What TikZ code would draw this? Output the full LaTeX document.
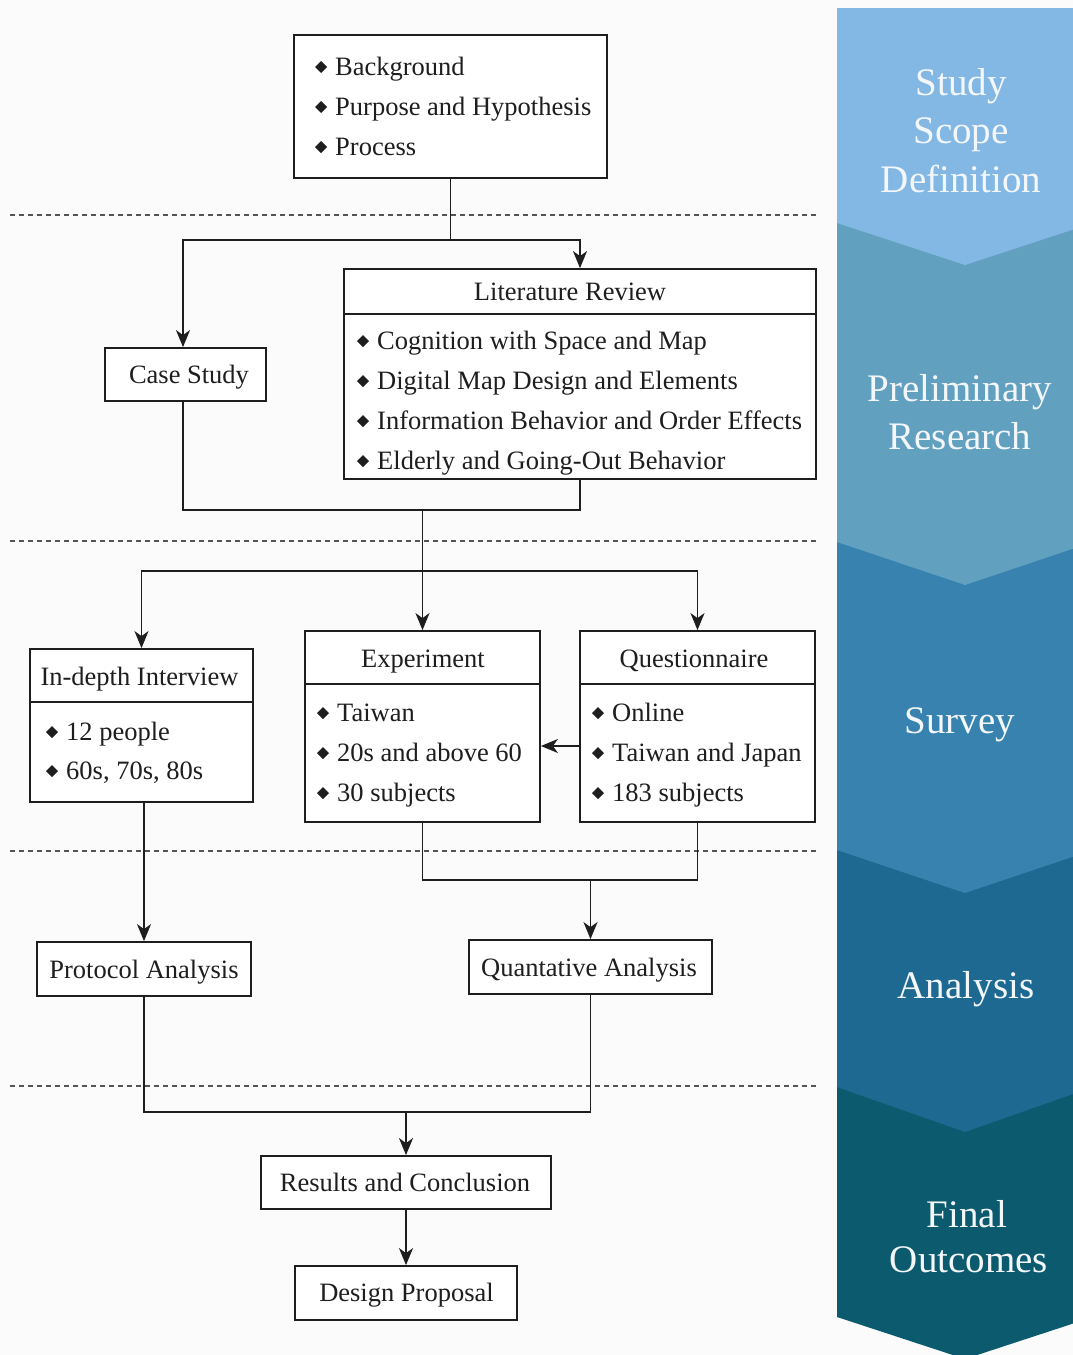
\documentclass[tikz,border=0pt]{standalone}
\usepackage{fontspec}
\setmainfont{Liberation Serif}
\usetikzlibrary{arrows.meta}
\definecolor{ink}{HTML}{1E1E1E}
\definecolor{paper}{HTML}{FBFBFB}
\definecolor{sepgray}{HTML}{555555}
\definecolor{stA}{HTML}{84B8E4}
\definecolor{stB}{HTML}{62A0C0}
\definecolor{stC}{HTML}{3782AF}
\definecolor{stD}{HTML}{1E6991}
\definecolor{stE}{HTML}{0C5A6E}
\definecolor{stagetext}{HTML}{F4F7FA}

% bullet item: diamond + text line (name, x of text, baseline y, text)
\newcommand\blt[4]{%
  \fill[ink] ({#2-14-6},{#3-8}) -- ({#2-14},{#3-8-6}) -- ({#2-14+6},{#3-8}) -- ({#2-14},{#3-8+6}) -- cycle;
  \node[txt] (#1) at (#2,#3) {#4};}
% chevron band: top, side bottom, tip, colour
\newcommand\chev[4]{%
  \fill[#4] (837,#1) -- (1093,#1) -- (1093,#2) -- (965,#3) -- (837,#2) -- cycle;}

\begin{document}
\begin{tikzpicture}[x=1pt,y=-1pt,
  box/.style={draw=ink, line width=1.8pt, fill=white, inner sep=0pt},
  txt/.style={font=\fontsize{26.5}{30}\selectfont, text=ink, inner sep=0pt, anchor=base west},
  head/.style={font=\fontsize{26.5}{30}\selectfont, text=ink, inner sep=0pt, anchor=base},
  conn/.style={draw=ink, line width=1.8pt},
  arr/.style={draw=ink, line width=1.8pt, -{Stealth[length=17pt,width=14pt,inset=5pt]}},
  divider/.style={draw=ink, line width=2.6pt},
  sep/.style={draw=sepgray, line width=1.3pt, dash pattern=on 5pt off 4pt},
  stage/.style={font=\fontsize{39}{48}\selectfont, text=stagetext, inner sep=0pt, anchor=base}]

\useasboundingbox (0,0) rectangle (1073,1355);
\fill[paper] (0,0) rectangle (1073,1355);

% stage chevrons on the right
\begin{scope}
  \clip (0,0) rectangle (1073,1355);
  \chev{1087}{1317}{1359}{stE}
  \chev{850}{1087}{1132}{stD}
  \chev{542}{850}{893}{stC}
  \chev{223}{542}{585}{stB}
  \chev{8}{223}{265}{stA}
\end{scope}
\node[stage] (s1a) at (961,95) {Study};
\node[stage] (s1b) at (961,143) {Scope};
\node[stage] (s1c) at (961,192) {Definition};
\node[stage] (s2a) at (960,401) {Preliminary};
\node[stage] (s2b) at (960,449) {Research};
\node[stage] (s3) at (960,733) {Survey};
\node[stage] (s4) at (966,998) {Analysis};
\node[stage] (s5a) at (967,1227) {Final};
\node[stage] (s5b) at (969,1272) {Outcomes};

% phase separators
\foreach \yy in {215,541,851,1086}
  \draw[sep] (10,\yy) -- (818,\yy);

% boxes
\node[box, minimum width=313pt, minimum height=143pt] (top) at (450.5,106.5) {};
\node[box, minimum width=161pt, minimum height=53pt] (case) at (185.5,374.5) {};
\node[box, minimum width=472pt, minimum height=210pt] (lit) at (580,374) {};
\node[box, minimum width=223pt, minimum height=153pt] (int) at (141.5,725.5) {};
\node[box, minimum width=235pt, minimum height=191pt] (exp) at (422.5,726.5) {};
\node[box, minimum width=235pt, minimum height=191pt] (que) at (697.5,726.5) {};
\node[box, minimum width=214pt, minimum height=54pt] (proto) at (144,969) {};
\node[box, minimum width=243pt, minimum height=54pt] (quant) at (590.5,967) {};
\node[box, minimum width=290pt, minimum height=53pt] (res) at (406,1182.5) {};
\node[box, minimum width=222pt, minimum height=54pt] (des) at (406,1293) {};

% header dividers
\draw[divider] ([yshift=-46pt]lit.north west) -- ([yshift=-46pt]lit.north east);
\draw[divider] ([yshift=-54pt]int.north west) -- ([yshift=-54pt]int.north east);
\draw[divider] ([yshift=-54pt]exp.north west) -- ([yshift=-54pt]exp.north east);
\draw[divider] ([yshift=-54pt]que.north west) -- ([yshift=-54pt]que.north east);

% texts
\blt{top1}{335}{75}{Background}
\blt{top2}{335}{115}{Purpose and Hypothesis}
\blt{top3}{335}{155}{Process}

\node[head] (caseT) at (189,383) {Case Study};

\node[head] (litH) at (570,300) {Literature Review};
\blt{lit1}{377}{349}{Cognition with Space and Map}
\blt{lit2}{377}{389}{Digital Map Design and Elements}
\blt{lit3}{377}{429}{Information Behavior and Order Effects}
\blt{lit4}{377}{469}{Elderly and Going-Out Behavior}

\node[head] (intH) at (139.5,685) {In-depth Interview};
\blt{int1}{66}{740}{12 people}
\blt{int2}{66}{779}{60s, 70s, 80s}

\node[head] (expH) at (423,667) {Experiment};
\blt{exp1}{337}{721}{Taiwan}
\blt{exp2}{337}{761}{20s and above 60}
\blt{exp3}{337}{801}{30 subjects}

\node[head] (queH) at (694,667) {Questionnaire};
\blt{que1}{612}{721}{Online}
\blt{que2}{612}{761}{Taiwan and Japan}
\blt{que3}{612}{801}{183 subjects}

\node[head] (protoT) at (144,978) {Protocol Analysis};
\node[head] (quantT) at (589,976) {Quantative Analysis};
\node[head] (resT) at (405,1191) {Results and Conclusion};
\node[head] (desT) at (406.5,1301) {Design Proposal};

% junction points
\coordinate (j1) at (450.5,240);
\coordinate (j2) at (422.5,510);
\coordinate (j3) at (422.5,571);
\coordinate (j4) at (590.5,880);
\coordinate (j5) at (406,1112);

% connectors
\draw[conn] (top.south) -- (j1);
\draw[arr] (j1) -| ([xshift=-2.5pt]case.north);
\draw[arr] (j1) -| (lit.north);

\draw[conn] ([xshift=-2.5pt]case.south) |- (lit.south |- j2) -- (lit.south);
\draw[arr] (j2) -- (exp.north);
\draw[arr] (j3) -| (int.north);
\draw[arr] (j3) -| (que.north);

\draw[arr] ([yshift=-19.5pt]que.west) -- ([yshift=-19.5pt]exp.east);

\draw[arr] (int.south -| proto.north) -- (proto.north);
\draw[conn] (exp.south) |- (que.south |- j4) -- (que.south);
\draw[arr] (j4) -- (quant.north);

\draw[conn] (proto.south) |- (quant.south |- j5) -- (quant.south);
\draw[arr] (j5) -- (res.north);
\draw[arr] (res.south) -- (des.north);
\end{tikzpicture}
\end{document}
